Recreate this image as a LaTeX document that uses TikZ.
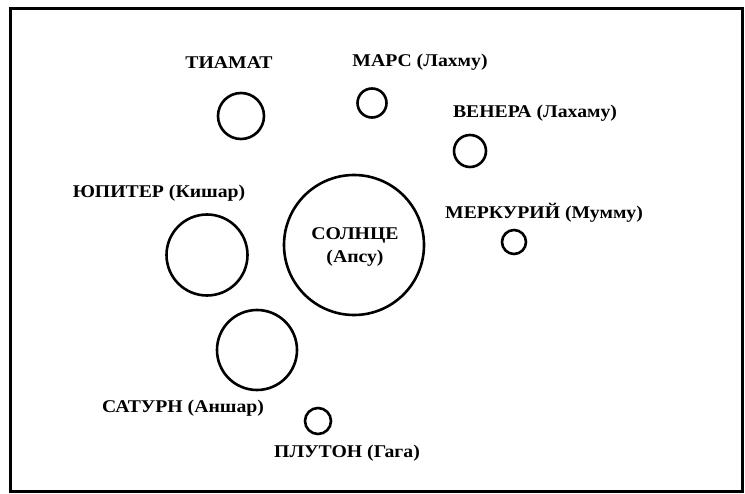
\documentclass[tikz,border=0pt]{standalone}
\usepackage{fontspec}
\setmainfont{Liberation Serif}[FakeStretch=1.1]
\begin{document}
\begin{tikzpicture}[x=1bp,y=-1bp,
  planet/.style={circle,draw=black,line width=2.6bp,inner sep=0pt,minimum size=#1},
  lbl/.style={font=\fontsize{18}{20}\selectfont\bfseries,inner sep=0pt,anchor=center},
  frame/.style={draw=black,line width=3bp}]
\useasboundingbox (0,0) rectangle (745,494);
\draw[frame] (10,9) rectangle (742,491);
% planets
\node[planet=46bp] (tiamat) at (241,116) {};
\node[planet=29bp] (mars) at (372,103) {};
\node[planet=32bp] (venus) at (470,151) {};
\node[planet=24bp] (mercury) at (514,242) {};
\node[planet=81bp] (jupiter) at (207,255) {};
\node[planet=140bp] (sun) at (354,245) {};
\node[planet=80bp] (saturn) at (257,350) {};
\node[planet=26bp] (pluto) at (318,421) {};
% labels
\node[lbl] (ltiamat) at (229,63) {ТИАМАТ};
\node[lbl] (lmars) at (420,62) {МАРС (Лахму)};
\node[lbl] (lvenus) at (535,113) {ВЕНЕРА (Лахаму)};
\node[lbl] (lmercury) at (544,213) {МЕРКУРИЙ (Мумму)};
\node[lbl] (ljupiter) at (159,193) {ЮПИТЕР (Кишар)};
\node[lbl] (lsun1) at (355,235) {СОЛНЦЕ};
\node[lbl] (lsun2) at (355,258) {(Апсу)};
\node[lbl] (lsaturn) at (183,408) {САТУРН (Аншар)};
\node[lbl] (lpluto) at (347,453) {ПЛУТОН (Гага)};
\end{tikzpicture}
\end{document}
